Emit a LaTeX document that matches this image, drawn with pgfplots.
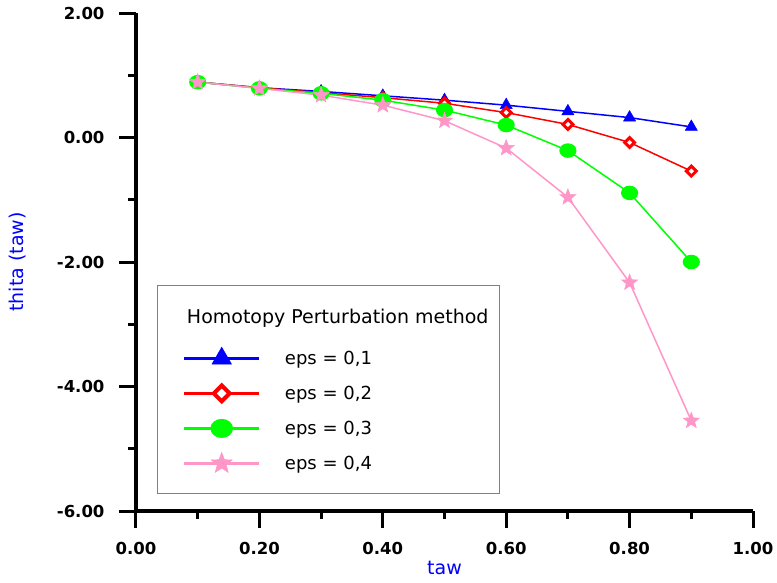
\documentclass[border=0pt]{standalone}
\usepackage{pgfplots}
\pgfplotsset{compat=1.18}
\usepackage{fontspec}
\setmainfont{DejaVu Sans}
\definecolor{pinkline}{RGB}{255,150,200}

% filled five-pointed star
\pgfdeclareplotmark{fstar}{%
  \pgfpathmoveto{\pgfpointpolar{90}{\pgfplotmarksize}}%
  \pgfpathlineto{\pgfpointpolar{126}{0.42\pgfplotmarksize}}%
  \pgfpathlineto{\pgfpointpolar{162}{\pgfplotmarksize}}%
  \pgfpathlineto{\pgfpointpolar{198}{0.42\pgfplotmarksize}}%
  \pgfpathlineto{\pgfpointpolar{234}{\pgfplotmarksize}}%
  \pgfpathlineto{\pgfpointpolar{270}{0.42\pgfplotmarksize}}%
  \pgfpathlineto{\pgfpointpolar{306}{\pgfplotmarksize}}%
  \pgfpathlineto{\pgfpointpolar{342}{0.42\pgfplotmarksize}}%
  \pgfpathlineto{\pgfpointpolar{18}{\pgfplotmarksize}}%
  \pgfpathlineto{\pgfpointpolar{54}{0.42\pgfplotmarksize}}%
  \pgfpathclose
  \pgfusepathqfillstroke}

% legend sample: line with one big mark in the middle, marks kept out of the row height
% #1 = mark options for the legend mark
\pgfplotsset{
  legsample/.style={legend image code/.code={%
    \path (0pt,-1pt) rectangle (73pt,1pt);
    \draw[overlay, ##1, line width=1.1pt, mark indices={2}, mark options={#1}]
      plot coordinates {(0pt,0pt) (36.5pt,0pt) (73pt,0pt)};}},
}

\begin{document}
\begin{tikzpicture}
\useasboundingbox (0pt,0pt) rectangle (777pt,-582pt);
\begin{axis}[
    at={(136pt,-511pt)}, anchor=south west,
    scale only axis, width=617pt, height=498pt,
    xmin=0, xmax=1, ymin=-6, ymax=2,
    xtick={0,0.2,...,1.0}, ytick={-6,-4,...,2},
    minor tick num=1,
    axis x line=bottom, axis y line=left,
    axis line style={-, line width=3.2pt, black},
    tick align=outside,
    major tick length=17pt, minor tick length=8pt,
    tick style={line width=3pt, black},
    /pgf/number format/assume math mode=true,
    /pgf/number format/.cd, fixed, fixed zerofill, precision=2, /pgfplots/.cd,
    ticklabel style={font=\fontsize{16.5}{20}\selectfont\bfseries},
    xticklabel style={yshift=-11pt},
    yticklabel style={xshift=-11pt},
    every axis y label/.style={at={(axis description cs:-0.1912,0.5)}, rotate=90, anchor=center},
    every axis x label/.style={at={(axis description cs:0.5,-0.1145)}, anchor=center},
    label style={font=\fontsize{19}{22}\selectfont, text=blue},
    xlabel={taw}, ylabel={thita (taw)},
    clip=false,
    legend style={at={(axis description cs:0.034,0.453)}, anchor=north west,
        draw=gray, line width=1pt, fill=white,
        inner xsep=27pt, inner ysep=22.4pt,
        font=\fontsize{18}{22}\selectfont,
        column sep=26pt, row sep=19pt,
        nodes={inner sep=0pt, text height=14pt, text depth=2pt}},
    legend cell align=left,
]
\addlegendimage{empty legend}
\addlegendentry[text height=15.6pt, text depth=7.5pt]{\fontsize{19}{22}\selectfont\hspace*{-98pt}Homotopy Perturbation method\hspace*{-16pt}}

\addplot[blue, line width=1.5pt, mark=triangle*, mark size=7pt,
    mark options={fill=blue, line width=0.5pt},
    legsample={fill=blue, line width=0.5pt, scale=1.6}]
coordinates {(0.1,0.89)(0.2,0.80)(0.3,0.74)(0.4,0.67)(0.5,0.60)(0.6,0.52)(0.7,0.42)(0.8,0.32)(0.9,0.17)};
\addlegendentry{eps = 0,1}

\addplot[red, line width=1.5pt, mark=square*, mark size=3.5pt,
    mark options={fill=white, draw=red, line width=3pt, rotate=45},
    legsample={fill=white, draw=red, line width=4pt, rotate=45, scale=1.6}]
coordinates {(0.1,0.89)(0.2,0.80)(0.3,0.72)(0.4,0.64)(0.5,0.55)(0.6,0.40)(0.7,0.21)(0.8,-0.08)(0.9,-0.54)};
\addlegendentry{eps = 0,2}

\addplot[green, line width=1.5pt, mark=*, mark size=6.5pt,
    mark options={fill=green, draw=green, xscale=1.2},
    legsample={fill=green, draw=green, scale=1.38, xscale=1.2}]
coordinates {(0.1,0.89)(0.2,0.79)(0.3,0.71)(0.4,0.60)(0.5,0.44)(0.6,0.20)(0.7,-0.21)(0.8,-0.89)(0.9,-2.00)};
\addlegendentry{eps = 0,3}

\addplot[pinkline, line width=1.5pt, mark=fstar, mark size=8.5pt,
    mark options={fill=pinkline, draw=pinkline, line width=0.5pt},
    legsample={fill=pinkline, draw=pinkline, line width=0.5pt, scale=1.3}]
coordinates {(0.1,0.89)(0.2,0.79)(0.3,0.68)(0.4,0.52)(0.5,0.27)(0.6,-0.17)(0.7,-0.96)(0.8,-2.33)(0.9,-4.55)};
\addlegendentry{eps = 0,4}
\end{axis}
\end{tikzpicture}
\end{document}
